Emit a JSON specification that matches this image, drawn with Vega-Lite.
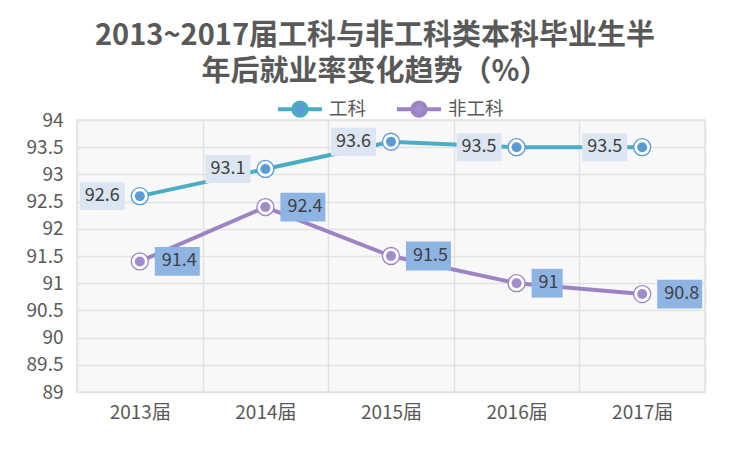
{
  "$schema": "https://vega.github.io/schema/vega-lite/v6.json",
  "width": 628,
  "height": 272,
  "autosize": {"type": "none"},
  "padding": {"left": 77, "top": 120, "right": 47, "bottom": 73},
  "background": "white",
  "config": {
    "font": "Noto Sans CJK SC",
    "view": {"fill": "#f8f8f8", "stroke": "#e2e2e2", "strokeWidth": 1.5},
    "axis": {"labelFont": "Noto Sans CJK SC", "labelColor": "#595959", "domain": false, "ticks": false, "gridColor": "#e2e2e2", "gridWidth": 1.5}
  },
  "title": {
    "text": ["2013~2017届工科与非工科类本科毕业生半", "年后就业率变化趋势（%）"],
    "fontSize": 29,
    "fontWeight": "bold",
    "color": "#595959",
    "lineHeight": 36,
    "anchor": "middle",
    "dx": -16,
    "offset": 9,
    "font": "Noto Sans CJK SC"
  },
  "data": {
    "values": [
      {"year": "2013届", "series": "工科", "value": 92.6},
      {"year": "2014届", "series": "工科", "value": 93.1},
      {"year": "2015届", "series": "工科", "value": 93.6},
      {"year": "2016届", "series": "工科", "value": 93.5},
      {"year": "2017届", "series": "工科", "value": 93.5},
      {"year": "2013届", "series": "非工科", "value": 91.4},
      {"year": "2014届", "series": "非工科", "value": 92.4},
      {"year": "2015届", "series": "非工科", "value": 91.5},
      {"year": "2016届", "series": "非工科", "value": 91},
      {"year": "2017届", "series": "非工科", "value": 90.8}
    ]
  },
  "encoding": {
    "x": {
      "field": "year", "type": "ordinal", "sort": null,
      "scale": {"type": "band", "paddingInner": 0, "paddingOuter": 0},
      "axis": {"title": null, "labelAngle": 0, "labelFontSize": 19, "labelPadding": 11, "grid": true, "tickBand": "extent"}
    },
    "y": {
      "field": "value", "type": "quantitative",
      "scale": {"domain": [89, 94], "nice": false, "zero": false},
      "axis": {"title": null, "values": [89, 89.5, 90, 90.5, 91, 91.5, 92, 92.5, 93, 93.5, 94], "format": "~g", "labelFontSize": 19, "labelPadding": 14}
    }
  },
  "layer": [
    {
      "mark": {"type": "line", "strokeWidth": 4},
      "encoding": {
        "color": {
          "field": "series", "type": "nominal",
          "scale": {"domain": ["工科", "非工科"], "range": ["#4BACC6", "#9C84C4"]},
          "legend": {
            "orient": "none", "legendX": 210, "legendY": -24, "direction": "horizontal", "title": null,
            "symbolType": "M-2,0H-0.65M0.65,0H2M0.6,0A0.6,0.6 0 1 1 -0.6,0A0.6,0.6 0 1 1 0.6,0Z",
            "symbolSize": 484, "symbolStrokeWidth": 4,
            "labelFontSize": 18.5, "labelColor": "#595959", "labelOffset": 16, "columnPadding": 22,
            "encode": {"symbols": {"update": {"fill": {"scale": "color", "field": "value"}, "fillOpacity": {"value": 1}}}}
          }
        }
      }
    },
    {
      "transform": [{"filter": "datum.series === '工科'"}],
      "mark": {"type": "point", "shape": "M-2,-0.62H0V0.62H-2Z", "size": 2025, "filled": true, "fill": "#DCE6F2", "opacity": 1, "strokeWidth": 0, "xOffset": -15}
    },
    {
      "transform": [{"filter": "datum.series === '非工科'"}],
      "mark": {"type": "point", "size": 2025, "filled": true, "fill": "#8EB4E3", "opacity": 1, "strokeWidth": 0, "xOffset": 15},
      "encoding": {
        "shape": {"condition": {"test": "length(toString(datum.value)) < 3", "value": "M0,-0.64H1.38V0.64H0Z"}, "value": "M0,-0.64H2V0.64H0Z"}
      }
    },
    {
      "transform": [{"filter": "datum.series === '工科'"}],
      "mark": {"type": "text", "align": "right", "baseline": "middle", "dx": -20, "fontSize": 18, "color": "#404040"},
      "encoding": {"text": {"field": "value", "type": "quantitative", "format": "~g"}}
    },
    {
      "transform": [{"filter": "datum.series === '非工科'"}],
      "mark": {"type": "text", "align": "left", "baseline": "middle", "dx": 22, "fontSize": 18, "color": "#404040"},
      "encoding": {"text": {"field": "value", "type": "quantitative", "format": "~g"}}
    },
    {
      "mark": {"type": "point", "shape": "circle", "size": 289, "filled": true, "fill": "white", "opacity": 1, "strokeWidth": 1.3},
      "encoding": {
        "stroke": {"field": "series", "type": "nominal", "scale": {"domain": ["工科", "非工科"], "range": ["#5B9BD5", "#9C84C4"]}, "legend": null}
      }
    },
    {
      "mark": {"type": "point", "shape": "circle", "size": 100, "filled": true, "opacity": 1, "strokeWidth": 0},
      "encoding": {
        "fill": {"field": "series", "type": "nominal", "scale": {"domain": ["工科", "非工科"], "range": ["#5B9BD5", "#A28BCB"]}, "legend": null}
      }
    }
  ]
}
